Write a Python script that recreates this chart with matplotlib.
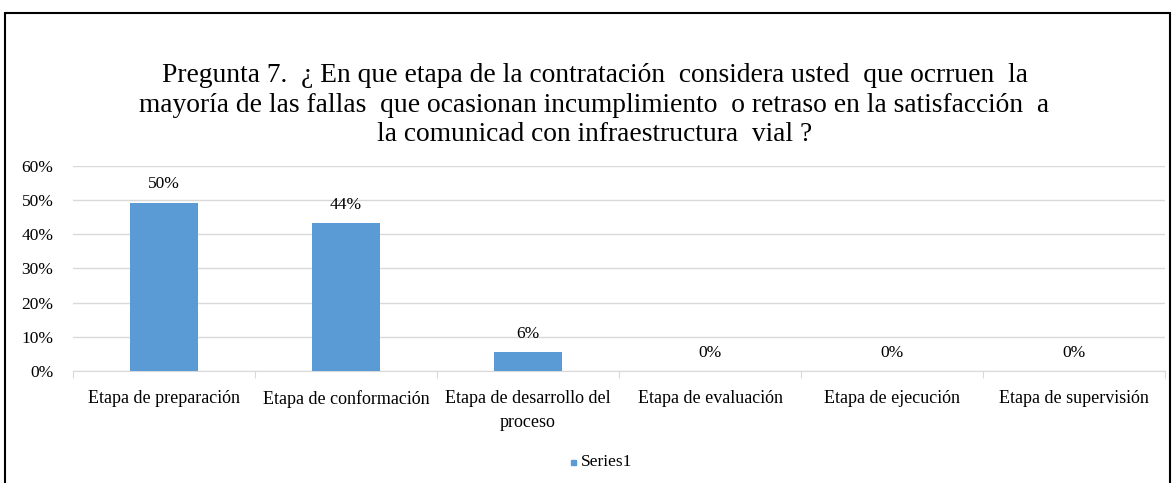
"""Recreate the Pregunta 7 bar chart."""

import matplotlib

matplotlib.use("Agg")
import matplotlib.pyplot as plt
from matplotlib.patches import Rectangle
from matplotlib.ticker import PercentFormatter

categories = [
    "Etapa de preparación",
    "Etapa de conformación",
    "Etapa de desarrollo del\nproceso",
    "Etapa de evaluación",
    "Etapa de ejecución",
    "Etapa de supervisión",
]
values = [0.493, 0.432, 0.056, 0.0, 0.0, 0.0]
value_labels = ["50%", "44%", "6%", "0%", "0%", "0%"]
title = (
    "Pregunta 7.  ¿ En que etapa de la contratación  considera usted  que ocrruen  la\n"
    "mayoría de las fallas  que ocasionan incumplimiento  o retraso en la satisfacción  a\n"
    "la comunicad con infraestructura  vial ?"
)
series_name = "Series1"

plt.rcParams["font.family"] = ["Liberation Serif", "DejaVu Serif"]

W, H = 1175, 483
fig = plt.figure(figsize=(W / 100, H / 100), dpi=100)

# chart frame
fig.patches.append(Rectangle((5 / W, -0.05), 1165 / W, 1.05 - 13 / H,
                             transform=fig.transFigure, fill=False,
                             edgecolor="black", lw=1.5))

ax = fig.add_axes([73 / W, 1 - 371 / H, 1092 / W, 205 / H])
x = range(len(categories))
ax.bar(x, values, width=0.375, color="#5B9BD5", zorder=3)
for xi, v, lab in zip(x, values, value_labels):
    ax.text(xi, v + 0.03, lab, ha="center", va="bottom", fontsize=12.5)

ax.set_xlim(-0.5, len(categories) - 0.5)
ax.set_ylim(0, 0.6)
ax.set_yticks([0, 0.1, 0.2, 0.3, 0.4, 0.5, 0.6])
ax.yaxis.set_major_formatter(PercentFormatter(1.0, decimals=0))
ax.grid(axis="y", color="#d9d9d9", lw=1, zorder=0)
for s in ["top", "right", "left"]:
    ax.spines[s].set_visible(False)
ax.spines["bottom"].set_color("#d9d9d9")
ax.tick_params(axis="y", length=0, labelsize=12.5, pad=14)

ax.set_xticks([i - 0.5 for i in range(len(categories) + 1)], minor=False)
ax.set_xticklabels([])
ax.tick_params(axis="x", which="major", length=5, color="#d9d9d9")
ax.set_xticks(list(x), minor=True)
ax.set_xticklabels(categories, minor=True, fontsize=13, linespacing=1.5)
ax.tick_params(axis="x", which="minor", length=0, pad=14)

fig.text(0.506, 1 - 105 / H, title, ha="center", va="center", fontsize=19.8,
         linespacing=1.22)

# legend
fig.patches.append(Rectangle((571 / W, 1 - 465 / H), 5 / W, 5 / H,
                             transform=fig.transFigure, color="#5B9BD5"))
fig.text(581 / W, 1 - 462 / H, series_name, ha="left", va="center", fontsize=12.5)

fig.savefig("out.png", dpi=100)
